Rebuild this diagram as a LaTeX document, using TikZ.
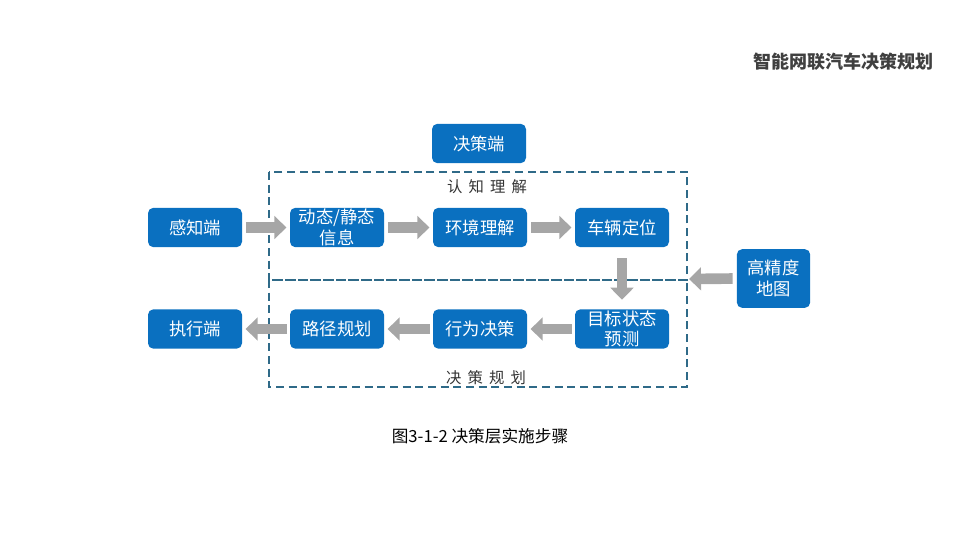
\documentclass[tikz,border=0pt]{standalone}
\usepackage{fontspec}
\setmainfont{Liberation Sans}
\newfontfamily\cjk{Noto Sans CJK SC}
\newfontfamily\cjkspaced[LetterSpace=40]{Noto Sans CJK SC}
\usetikzlibrary{arrows.meta}
\definecolor{boxblue}{HTML}{0A70C0}
\definecolor{arrgray}{HTML}{A6A6A6}
\definecolor{dashcol}{HTML}{2F6A88}
\definecolor{titlegray}{HTML}{404040}
\begin{document}
\begin{tikzpicture}[x=0.75pt,y=-0.75pt,
  stepbox/.style={fill=boxblue,draw=none,rounded corners=4pt,minimum width=70.5pt,minimum height=29.5pt,text=white,font=\cjk\fontsize{13}{15.5}\selectfont,align=center,inner sep=1pt},
  flow/.style={draw=arrgray,line width=8pt,-{Triangle[width=17pt,length=9pt]}},
  region/.style={draw=dashcol,dashed,dash pattern=on 6pt off 3.5pt,line width=1pt},
  tag/.style={font=\cjkspaced\fontsize{11.5}{13}\selectfont,text=black!80}]
\useasboundingbox (0,0) rectangle (960,540);
% regions
\draw[region] (269,172) rectangle (687,280);
\draw[region] (269,280) rectangle (687,387);
\node[tag] (lbl1) at (487,187) {认知理解};
\node[tag] (lbl2) at (486,378) {决策规划};
% boxes
\node[stepbox] (jc) at (479,143.5) {决策端};
\node[stepbox] (gz) at (195,227.5) {感知端};
\node[stepbox] (dt) at (337,227.5) {动态/静态\\信息};
\node[stepbox] (hj) at (480,227.5) {环境理解};
\node[stepbox] (cl) at (622,227.5) {车辆定位};
\node[stepbox] (mb) at (622,329) {目标状态\\预测};
\node[stepbox] (xw) at (480,329) {行为决策};
\node[stepbox] (lj) at (337,329) {路径规划};
\node[stepbox] (zx) at (195,329) {执行端};
\node[stepbox,minimum width=55pt,minimum height=44pt] (gj) at (773.5,278.5) {高精度\\地图};
\coordinate (gjend) at (689,279);
% arrows
\draw[flow,shorten <=3pt,shorten >=2.5pt] (gz.east) -- (dt.west);
\draw[flow,shorten <=3pt,shorten >=2.5pt] (dt.east) -- (hj.west);
\draw[flow,shorten <=3pt,shorten >=2.5pt] (hj.east) -- (cl.west);
\draw[flow,shorten <=8pt,shorten >=7pt] (cl.south) -- (mb.north);
\draw[flow,shorten <=3pt] (gj.west) -- (gjend);
\draw[flow,shorten <=2pt,shorten >=2.5pt] (mb.west) -- (xw.east);
\draw[flow,shorten <=2pt,shorten >=2.5pt] (xw.west) -- (lj.east);
\draw[flow,shorten <=2pt,shorten >=2.5pt] (lj.west) -- (zx.east);
% title and caption
\node[font=\cjk\bfseries\fontsize{13.5}{15}\selectfont,text=titlegray,anchor=east] (title) at (938,62) {智能网联汽车决策规划};
\node[font=\cjk\fontsize{12.5}{14}\selectfont,text=black] (cap) at (480,436) {图3-1-2 决策层实施步骤};
\end{tikzpicture}
\end{document}
